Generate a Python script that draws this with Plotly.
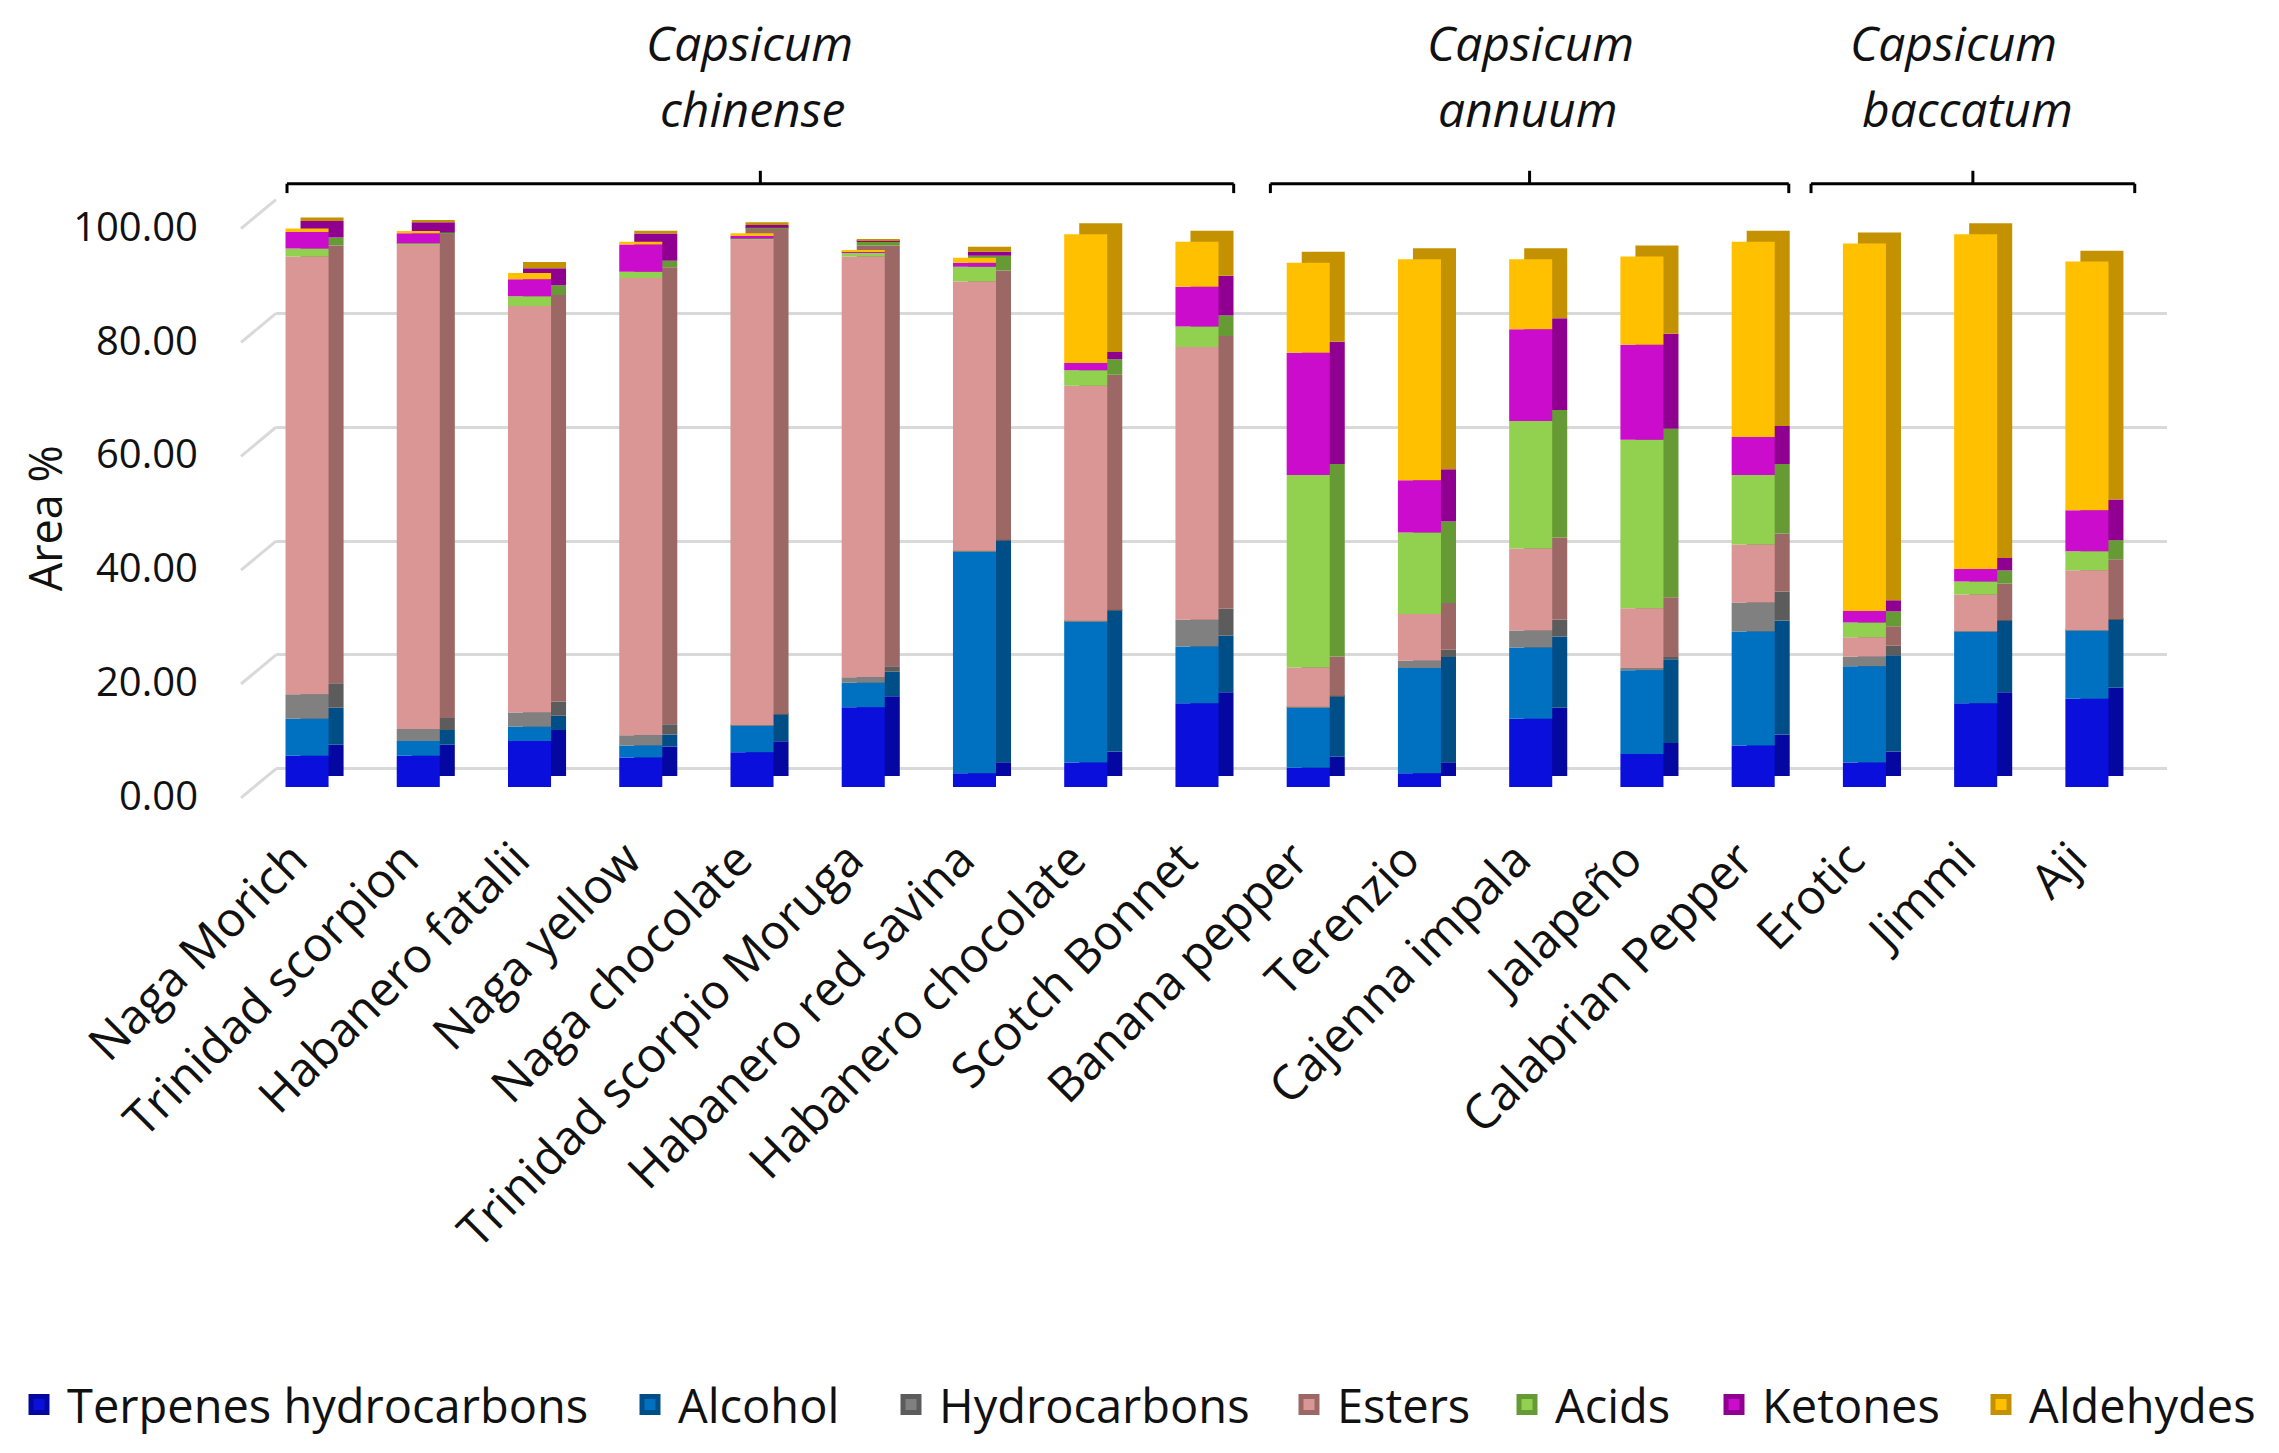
import numpy as np
import plotly.graph_objects as go

cultivars = ["Naga Morich", "Trinidad scorpion", "Habanero fatalii", "Naga yellow",
             "Naga chocolate", "Trinidad scorpio Moruga", "Habanero red savina",
             "Habanero chocolate", "Scotch Bonnet", "Banana pepper", "Terenzio",
             "Cajenna impala", "Jalapeño", "Calabrian Pepper", "Erotic", "Jimmi", "Aji"]

terpenes_hydrocarbons = [5.5, 5.5, 8.1, 5.2, 6.1, 14.0, 2.4, 4.3, 14.7, 3.4, 2.4, 12.0, 5.8, 7.3, 4.3, 14.7, 15.5]
alcohol = [6.5, 2.6, 2.5, 2.1, 4.7, 4.3, 39.0, 24.8, 10.0, 10.6, 18.5, 12.5, 14.7, 20.0, 16.9, 12.6, 12.0]
hydrocarbons = [4.3, 2.1, 2.5, 1.8, 0.1, 1.0, 0.1, 0.1, 4.7, 0.1, 1.3, 3.0, 0.4, 5.1, 1.7, 0.1, 0.1]
esters = [76.9, 85.1, 71.4, 80.3, 85.3, 73.9, 47.3, 41.3, 47.9, 6.9, 8.2, 14.4, 10.5, 10.2, 3.4, 6.4, 10.5]
acids = [1.4, 0.2, 1.7, 1.1, 0.1, 0.7, 2.6, 2.7, 3.6, 33.8, 14.3, 22.4, 29.6, 12.2, 2.6, 2.3, 3.3]
ketones = [2.9, 1.8, 3.0, 4.8, 0.5, 0.2, 0.7, 1.3, 7.0, 21.5, 9.2, 16.1, 16.7, 6.7, 2.0, 2.2, 7.2]
aldehydes = [0.6, 0.4, 1.1, 0.5, 0.5, 0.2, 0.9, 22.6, 7.9, 15.8, 38.8, 12.3, 15.5, 34.3, 64.6, 58.8, 43.7]

series_names = ["Terpenes hydrocarbons", "Alcohol", "Hydrocarbons", "Esters",
                "Acids", "Ketones", "Aldehydes"]
series_values = [terpenes_hydrocarbons, alcohol, hydrocarbons, esters, acids, ketones, aldehydes]
series_colors = ["#0b0fdc", "#0070c0", "#808080", "#d99694", "#92d050", "#cc0ccc", "#ffc000"]
series_dark = ["#0508a0", "#004e88", "#5c5c5c", "#9c6866", "#659a35", "#900090", "#c49200"]

y_ticks = [0, 20, 40, 60, 80, 100]

species_line1 = ["Capsicum", "Capsicum", "Capsicum"]
species_line2 = ["chinense", "annuum", "baccatum"]
species_spans = [(-0.18, 8.33), (8.66, 13.32), (13.52, 16.43)]
species_x1 = [3.98, 11.0, 14.8]
species_x2 = [4.0, 10.98, 14.93]

legend_centers_px = [41, 652, 913, 1311, 1529, 1736, 2003]

FONT = "Open Sans, Noto Sans, DejaVu Sans, sans-serif"
TXT = "#111111"
GRID = "#d9d9d9"

PLOT_L, PLOT_R = 268, 2159
PLOT_W = PLOT_R - PLOT_L
FRONT_W = 0.387          # front-face width (category units)
SIDE_W = 0.135           # depth shift to the right (category units)
LIFT = 1.93              # depth shift upwards (value units)
GRID_RANGE = [-3.2, 100.1]

fig = go.Figure()

bases = np.vstack([np.zeros(len(cultivars)),
                   np.cumsum(np.array(series_values), axis=0)[:-1]])

# depth faces (drawn first, behind)
for i, (vals, dcol) in enumerate(zip(series_values, series_dark)):
    fig.add_trace(go.Bar(x=cultivars, y=vals, base=bases[i] + LIFT,
                         width=FRONT_W, offset=-FRONT_W / 2 + SIDE_W,
                         marker_color=dcol, marker_line_width=0,
                         showlegend=False, hoverinfo="skip"))
# front faces
for i, (name, vals, col) in enumerate(zip(series_names, series_values, series_colors)):
    fig.add_trace(go.Bar(x=cultivars, y=vals, base=bases[i], name=name,
                         width=FRONT_W, offset=-FRONT_W / 2,
                         marker_color=col, marker_line_width=0, showlegend=False))

# legend entries (one legend per entry to reproduce spacing)
legend_layouts = {}
for i, (name, col, dcol, cx) in enumerate(zip(series_names, series_colors, series_dark, legend_centers_px)):
    lname = "legend" if i == 0 else f"legend{i + 1}"
    fig.add_trace(go.Scatter(x=[None], y=[None], mode="markers", name=name,
                             marker=dict(symbol="square", size=16, color=col,
                                         line=dict(color=dcol, width=5)),
                             legend=lname, showlegend=True, hoverinfo="skip"))
    legend_layouts[lname] = dict(orientation="h", x=(cx - 38 - PLOT_L) / PLOT_W, xanchor="left",
                                 y=-1.051, yanchor="middle", bgcolor="rgba(0,0,0,0)",
                                 font=dict(size=47, family=FONT, color=TXT), itemwidth=46)

# invisible helper trace on the grid axis
fig.add_trace(go.Scatter(x=[None], y=[None], yaxis="y2", showlegend=False, hoverinfo="skip"))

fig.update_layout(
    width=2279, height=1453,
    barmode="overlay",
    plot_bgcolor="white", paper_bgcolor="white",
    margin=dict(l=PLOT_L, r=2279 - PLOT_R, t=191, b=674, autoexpand=False),
    font=dict(family=FONT, color=TXT),
    **legend_layouts,
    xaxis=dict(
        range=[-0.279, 16.72], tickangle=-45, tickfont=dict(size=48, family=FONT, color=TXT),
        showgrid=False, showline=False, zeroline=False,
        ticks="outside", ticklen=24, tickcolor="rgba(0,0,0,0)", ticklabelshift=-14,
    ),
    yaxis=dict(
        range=[0, 103.3], tickvals=y_ticks, tickformat=".2f",
        tickfont=dict(size=40, family=FONT, color=TXT),
        showgrid=False, zeroline=False, showline=False,
        ticks="outside", ticklen=69, tickcolor="rgba(0,0,0,0)", ticklabelshift=9,
    ),
    yaxis2=dict(overlaying="y", range=GRID_RANGE, tickvals=y_ticks,
                showgrid=True, gridcolor=GRID, gridwidth=3, showticklabels=False,
                zeroline=False, showline=False, side="left"),
)

# floor perspective lines joining the wall grid to the value labels
span = GRID_RANGE[1] - GRID_RANGE[0]
for v in y_ticks:
    fig.add_shape(type="line", xref="paper", yref="paper", x0=0, x1=-35 / PLOT_W,
                  y0=(v - GRID_RANGE[0]) / span, y1=(v - 5.1 - GRID_RANGE[0]) / span,
                  line=dict(color=GRID, width=3))

fig.add_annotation(text="Area %", xref="paper", yref="paper", x=-0.1227, y=0.457,
                   textangle=-90, showarrow=False, font=dict(size=45, family=FONT, color=TXT),
                   xanchor="center", yanchor="middle")

for l1, l2, (a, b), x1, x2 in zip(species_line1, species_line2, species_spans, species_x1, species_x2):
    mid = (a + b) / 2
    line = dict(color="black", width=3)
    fig.add_shape(type="line", xref="x", yref="paper", x0=a, x1=b, y0=1.026, y1=1.026, line=line)
    fig.add_shape(type="line", xref="x", yref="paper", x0=a, x1=a, y0=1.026, y1=1.010, line=line)
    fig.add_shape(type="line", xref="x", yref="paper", x0=b, x1=b, y0=1.026, y1=1.010, line=line)
    fig.add_shape(type="line", xref="x", yref="paper", x0=mid, x1=mid, y0=1.026, y1=1.048, line=line)
    fig.add_annotation(text=f"<i>{l1}</i>", xref="x", yref="paper", x=x1, y=1.266,
                       showarrow=False, font=dict(size=48, family=FONT, color=TXT),
                       xanchor="center", yanchor="middle")
    fig.add_annotation(text=f"<i>{l2}</i>", xref="x", yref="paper", x=x2, y=1.154,
                       showarrow=False, font=dict(size=48, family=FONT, color=TXT),
                       xanchor="center", yanchor="middle")

fig.write_html("out.html")
